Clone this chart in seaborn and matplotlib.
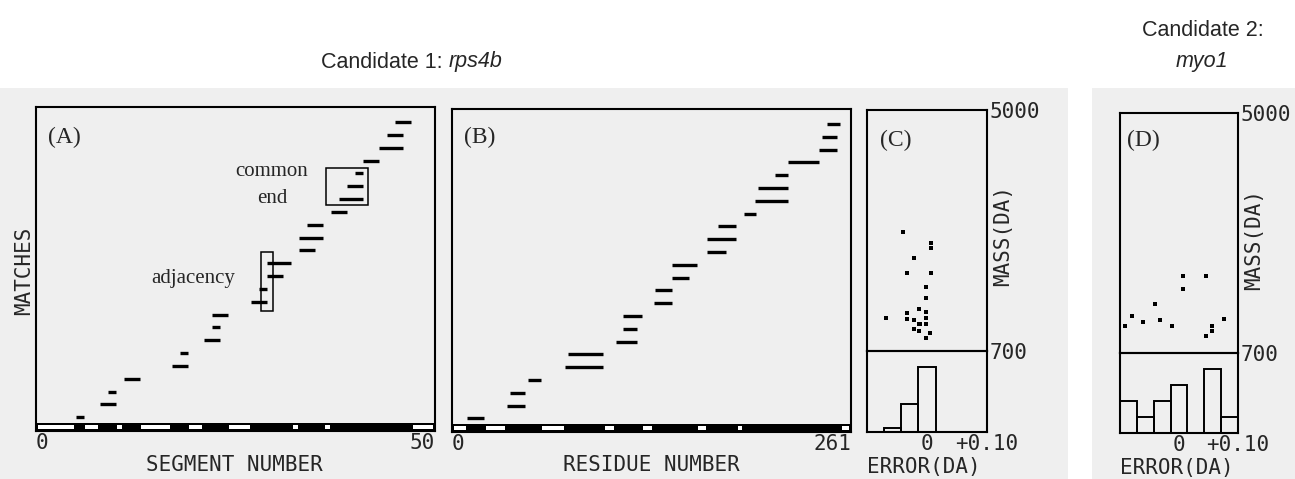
import numpy as np
import pandas as pd
import matplotlib
matplotlib.use("Agg")
import matplotlib.pyplot as plt
from matplotlib.patches import Rectangle
from matplotlib.ticker import NullLocator, NullFormatter
import seaborn as sns

# ---------------- data ----------------
# Panel A: span of each match in segment numbers (matches 1..24, bottom to top)
seg_start = [5, 8, 9, 11, 17, 18, 21, 22, 22, 27, 28, 29, 29, 33, 33, 34, 37, 38, 39, 40, 41, 43, 44, 45]
seg_end = [6, 10, 10, 13, 19, 19, 23, 23, 24, 29, 29, 31, 32, 35, 36, 36, 39, 41, 41, 41, 43, 46, 46, 47]
n_segments = 50

# Panel B: span of each match in residue numbers
res_start = [10, 36, 38, 50, 74, 76, 107, 112, 112, 132, 133, 144, 144, 167, 167, 174, 191, 198, 200, 211, 220, 240, 242, 245]
res_end = [21, 48, 48, 58, 99, 99, 121, 121, 124, 144, 144, 155, 160, 179, 186, 186, 199, 220, 220, 220, 240, 252, 252, 254]
n_residues = 261

# Panel C: mass error (Da) vs peptide mass (Da), candidate 1
c_error = [-0.0407, 0.0067, 0.0067, -0.0213, -0.033, 0.0062, -0.0022, -0.0022, -0.069, -0.0129,
           -0.033, -0.033, -0.0022, -0.0022, -0.0218, -0.0129, -0.0022, -0.0218, -0.0129, 0.005,
           -0.0022, -0.001, -0.012, 0.007]
c_mass = [1844, 1686, 1618, 1498, 1319, 1319, 1182, 1076, 914, 984,
          952, 907, 965, 914, 901, 870, 872, 838, 824, 813,
          780, 914, 871, 1690]

# Panel D: candidate 2
d_error = [-0.0915, -0.0803, -0.0606, -0.0408, -0.0324, -0.0127, 0.0070, 0.0070, 0.0454, 0.0454, 0.0566, 0.0566, 0.0763]
d_mass = [875, 944, 904, 1045, 918, 875, 1316, 1186, 1316, 802, 871, 838, 927]

mass_ticks = [700, 5000]
error_ticks = [0, 0.10]
error_tick_labels = ["0", "+0.10"]

# ---------------- style ----------------
sns.set_theme(style="white")
plt.rcParams["font.family"] = ["DejaVu Sans"]

MONO = "DejaVu Sans Mono"
SERIF = "Liberation Serif"
SANS = "Liberation Sans"
MONO_SIZE = 15
BG = "#efefef"

W, H = 1295, 479
fig = plt.figure(figsize=(W / 100, H / 100), dpi=100)
fig.patch.set_facecolor("white")


def fx(x):
    return x / W


def fy(y):
    return 1 - y / H


# stippled paper background of the scan
fig.patches.append(Rectangle((0, 0), fx(1068), fy(88), transform=fig.transFigure,
                             facecolor=BG, edgecolor="none", zorder=-10))
fig.patches.append(Rectangle((fx(1092), 0), fx(1295 - 1092), fy(88), transform=fig.transFigure,
                             facecolor=BG, edgecolor="none", zorder=-10))


def add_ax(l, t, r, b):
    ax = fig.add_axes([fx(l), fy(b), (r - l) / W, (b - t) / H])
    ax.set_facecolor("none")
    for s in ax.spines.values():
        s.set_linewidth(1.5)
        s.set_color("black")
        s.set_visible(True)
    ax.tick_params(length=0, labelsize=MONO_SIZE, pad=1.5)
    return ax


Y_LO, Y_HI = -0.07, 25.17
STRIP_TOP = 0.55


def match_panel(ax, start, end, xmax, right_label):
    n = len(start)
    match = np.arange(1, n + 1)
    df = pd.DataFrame({
        "match": np.repeat(match, 2),
        "pos": np.ravel(np.column_stack([start, end])),
    })
    sns.lineplot(data=df, x="pos", y="match", units="match", estimator=None, sort=False,
                 color="black", lw=2.4, ax=ax, legend=False, solid_capstyle="butt")
    ax.set_xlim(0, xmax)
    ax.set_ylim(Y_LO, Y_HI)
    # coverage strip: black where covered by matches, white where not
    ax.add_patch(Rectangle((0, Y_LO), xmax, STRIP_TOP - Y_LO, facecolor="black", edgecolor="none"))
    covered = []
    for s, e in sorted(zip(start, end)):
        if covered and s <= covered[-1][1]:
            covered[-1][1] = max(covered[-1][1], e)
        else:
            covered.append([s, e])
    gaps, prev = [], 0
    for s, e in covered:
        if s > prev:
            gaps.append((prev, s))
        prev = e
    if prev < xmax:
        gaps.append((prev, xmax))
    inset = xmax * 0.004
    for g0, g1 in gaps:
        ax.add_patch(Rectangle((g0 + inset, 0.1), g1 - g0 - 2 * inset, 0.28,
                               facecolor="white", edgecolor="none"))
    ax.set_yticks([])
    ax.set_xticks([0, xmax], ["0", right_label])
    labs = ax.get_xticklabels()
    labs[0].set_ha("left")
    labs[1].set_ha("right")
    for t in labs:
        t.set_family(MONO)
    ax.set_xlabel("")
    ax.set_ylabel("")


def error_panel(ax_top, ax_bot, err, mass):
    sns.scatterplot(x=err, y=mass, ax=ax_top, marker="s", s=7, color="black", linewidth=0)
    ax_top.set_yscale("log")
    ax_top.set_ylim(mass_ticks[0], mass_ticks[1])
    ax_top.set_xlim(-0.1, 0.1)
    ax_top.yaxis.set_minor_locator(NullLocator())
    ax_top.yaxis.set_minor_formatter(NullFormatter())
    ax_top.yaxis.tick_right()
    ax_top.set_yticks(mass_ticks, [str(m) for m in mass_ticks])
    for t in ax_top.get_yticklabels():
        t.set_family(MONO)
    ax_top.tick_params(axis="y", pad=2)
    ax_top.set_xticks([])
    edges = np.linspace(-0.1, 0.1, 8)
    counts, _ = np.histogram(err, bins=edges)
    sns.histplot(x=err, bins=edges, ax=ax_bot, fill=False, element="bars",
                 color="black", linewidth=1.4)
    ax_bot.set_xlim(-0.1, 0.1)
    ax_bot.set_ylim(0, counts.max() * 1.25)
    ax_bot.set_yticks([])
    ax_bot.set_xticks(error_ticks, error_tick_labels)
    for t in ax_bot.get_xticklabels():
        t.set_family(MONO)
    ax_bot.set_xlabel("")
    ax_bot.set_ylabel("")


axA = add_ax(36, 107, 435, 431)
match_panel(axA, seg_start, seg_end, n_segments, "50")
axB = add_ax(452, 109, 851, 432)
match_panel(axB, res_start, res_end, n_residues, "261")

axC1 = add_ax(867, 110, 987, 351)
axC2 = add_ax(867, 351, 987, 432)
error_panel(axC1, axC2, c_error, c_mass)
axD1 = add_ax(1120, 113, 1238, 353)
axD2 = add_ax(1120, 353, 1238, 433)
error_panel(axD1, axD2, d_error, d_mass)

# boxes highlighting adjacency / common end in panel A
axA.add_patch(Rectangle((28.2, 9.29), 1.55, 4.57, fill=False, edgecolor="black", linewidth=1.1))
axA.add_patch(Rectangle((36.3, 17.55), 5.3, 2.9, fill=False, edgecolor="black", linewidth=1.1))

# ---------------- text ----------------
TITLE_SIZE = 15.5
renderer = fig.canvas.get_renderer()
t1 = fig.text(0, 0, "Candidate 1: ", family=SANS, fontsize=TITLE_SIZE)
t2 = fig.text(0, 0, "rps4b", family=SANS, fontsize=TITLE_SIZE, style="italic")
w1 = t1.get_window_extent(renderer).width
w2 = t2.get_window_extent(renderer).width
x0 = 412 - (w1 + w2) / 2
t1.set_position((fx(x0), fy(62)))
t1.set_va("center")
t2.set_position((fx(x0 + w1), fy(62)))
t2.set_va("center")

fig.text(fx(1203), fy(30), "Candidate 2:", family=SANS, fontsize=TITLE_SIZE, ha="center", va="center")
fig.text(fx(1202), fy(62), "myo1", family=SANS, fontsize=TITLE_SIZE, style="italic",
         ha="center", va="center")

for lab, x, y in [("(A)", 48, 137), ("(B)", 464, 137), ("(C)", 880, 140), ("(D)", 1127, 140)]:
    fig.text(fx(x), fy(y), lab, family=SERIF, fontsize=17, ha="left", va="center")

fig.text(fx(272), fy(176), "common", family=SERIF, fontsize=15, ha="center", va="baseline")
fig.text(fx(272), fy(203), "end", family=SERIF, fontsize=15, ha="center", va="baseline")
fig.text(fx(193), fy(283), "adjacency", family=SERIF, fontsize=15, ha="center", va="baseline")

fig.text(fx(24), fy(271), "MATCHES", family=MONO, fontsize=MONO_SIZE, rotation=90,
         ha="center", va="center")
fig.text(fx(234), fy(465), "SEGMENT NUMBER", family=MONO, fontsize=MONO_SIZE, ha="center", va="center")
fig.text(fx(651), fy(465), "RESIDUE NUMBER", family=MONO, fontsize=MONO_SIZE, ha="center", va="center")
fig.text(fx(1003), fy(235), "MASS(DA)", family=MONO, fontsize=MONO_SIZE, rotation=90,
         ha="center", va="center")
fig.text(fx(1254), fy(239), "MASS(DA)", family=MONO, fontsize=MONO_SIZE, rotation=90,
         ha="center", va="center")
fig.text(fx(867), fy(467), "ERROR(DA)", family=MONO, fontsize=MONO_SIZE, ha="left", va="center")
fig.text(fx(1120), fy(468), "ERROR(DA)", family=MONO, fontsize=MONO_SIZE, ha="left", va="center")

fig.savefig("out.png", dpi=100, facecolor=fig.get_facecolor())
